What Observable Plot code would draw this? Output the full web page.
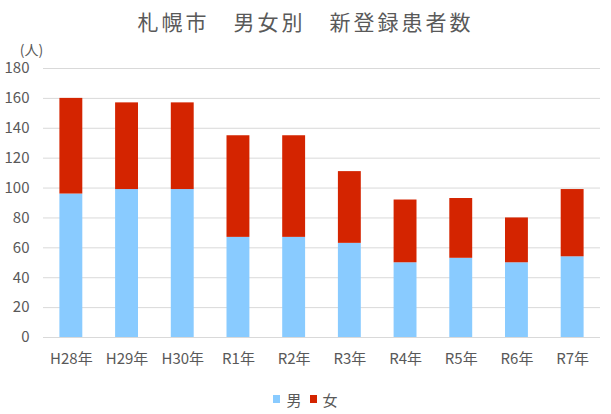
<!DOCTYPE html>
<html>
<head>
<meta charset="utf-8">
<script src="https://cdn.jsdelivr.net/npm/d3@7"></script>
<script src="https://cdn.jsdelivr.net/npm/@observablehq/plot@0.6"></script>
<style>
  body { margin: 0; background: #fff; font-family: "Noto Sans CJK JP", "Noto Sans", sans-serif; }
  #wrap { width: 611px; height: 414px; position: relative; overflow: hidden; }
  #title { height: 37px; line-height: 42px; text-align: center; font-size: 21px; color: #595959; letter-spacing: 3px; white-space: pre; }
  #legend { position: absolute; top: 386px; left: 0; width: 611px; text-align: center; font-size: 15px; color: #595959; }
  #legend span.item { display: inline-flex; align-items: center; margin: 0 4px; }
  #legend span.sw { display: inline-block; width: 7px; height: 8px; margin-right: 6px; }
  svg { display: block; }
</style>
</head>
<body>
<div id="wrap">
  <div id="title"></div>
  <div id="chart"></div>
  <div id="legend"></div>
</div>
<script>
const title = "札幌市　男女別　新登録患者数";
const unitLabel = "(人)";
const years = ["H28年","H29年","H30年","R1年","R2年","R3年","R4年","R5年","R6年","R7年"];
const male = [96, 99, 99, 67, 67, 63, 50, 53, 50, 54];
const female = [64, 58, 58, 68, 68, 48, 42, 40, 30, 45];
const seriesNames = ["男", "女"];
const seriesColors = ["#89cbff", "#d42400"];
const yTicks = [0, 20, 40, 60, 80, 100, 120, 140, 160, 180];

const rows = [];
years.forEach((y, i) => {
  rows.push({year: y, sex: seriesNames[0], value: male[i]});
  rows.push({year: y, sex: seriesNames[1], value: female[i]});
});

document.getElementById("title").textContent = title;

const chart = Plot.plot({
  width: 611,
  height: 338,
  marginLeft: 43,
  marginRight: 11,
  marginTop: 31,
  marginBottom: 38,
  style: { fontFamily: '"Noto Sans CJK JP", "Noto Sans", sans-serif', fontSize: "15px", color: "#595959", background: "#fff" },
  x: { domain: years, padding: 0, round: false, label: null },
  y: { domain: [0, 180], label: null },
  color: { domain: seriesNames, range: seriesColors },
  marks: [
    Plot.gridY(yTicks, { stroke: "#d9d9d9", strokeOpacity: 1, strokeWidth: 1 }),
    Plot.axisY(yTicks, { tickSize: 0, tickPadding: 14, label: null, fill: "#595959", fontSize: 15 }),
    Plot.axisX({ tickSize: 0, tickPadding: 16, label: null, fill: "#595959", fontSize: 15 }),
    Plot.barY(rows, Plot.stackY({ x: "year", y: "value", fill: "sex", order: seriesNames, insetLeft: 16.4, insetRight: 16.4 })),
    Plot.ruleY([0], { stroke: "#d9d9d9", strokeWidth: 1 }),
    Plot.text([unitLabel], { frameAnchor: "top-left", dx: -12, dy: -18, lineAnchor: "middle", text: d => d, textAnchor: "middle", fill: "#595959", fontSize: 14 })
  ]
});
document.getElementById("chart").appendChild(chart);

const legend = document.getElementById("legend");
seriesNames.forEach((n, i) => {
  const item = document.createElement("span");
  item.className = "item";
  const sw = document.createElement("span");
  sw.className = "sw";
  sw.style.background = seriesColors[i];
  item.appendChild(sw);
  item.appendChild(document.createTextNode(n));
  legend.appendChild(item);
});
</script>
</body>
</html>
